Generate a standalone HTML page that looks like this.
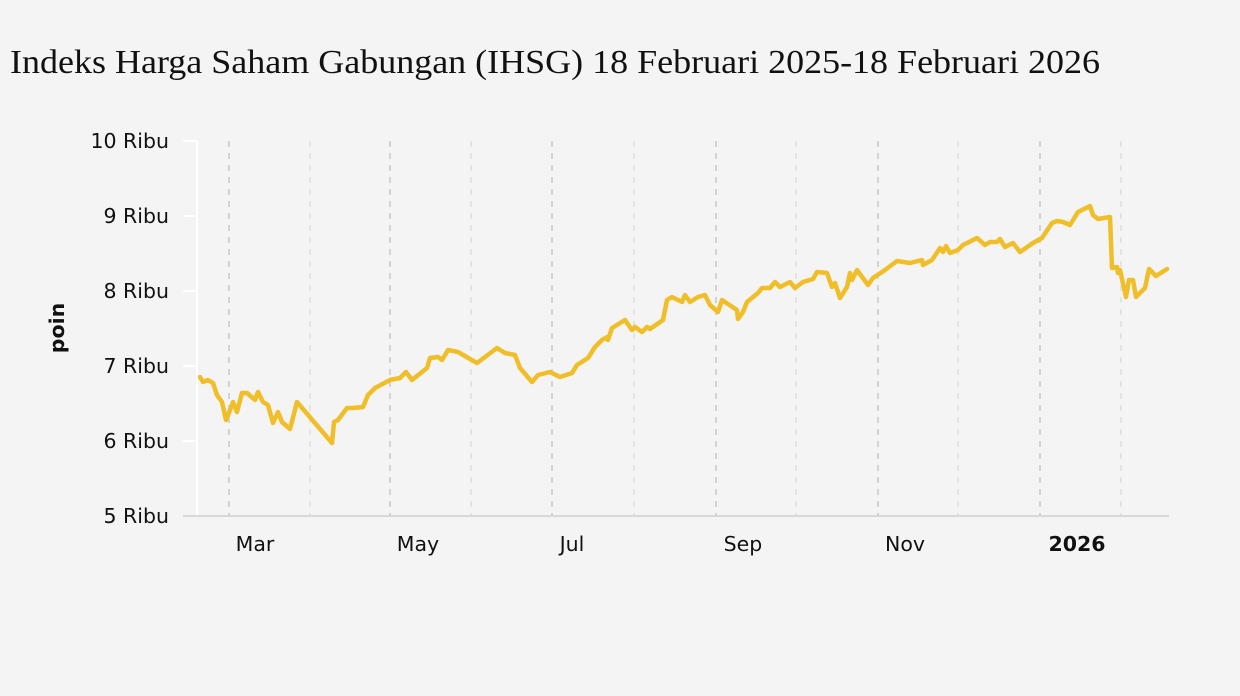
<!DOCTYPE html>
<html><head><meta charset="utf-8"><style>
body{margin:0;background:#f4f4f4;}
svg{display:block}
</style></head><body>
<svg width="1240" height="696" viewBox="0 0 1240 696" xmlns="http://www.w3.org/2000/svg">
<rect width="1240" height="696" fill="#f4f4f4"/>
<text x="10" y="73" font-family="Liberation Serif, serif" font-size="34" fill="#111" textLength="1090" lengthAdjust="spacingAndGlyphs">Indeks Harga Saham Gabungan (IHSG) 18 Februari 2025-18 Februari 2026</text>
<g stroke-dasharray="6,6" stroke-width="1.5">
<line x1="229" y1="141" x2="229" y2="516" stroke="#c8c8c8"/>
<line x1="310" y1="141" x2="310" y2="516" stroke="#dedede"/>
<line x1="390" y1="141" x2="390" y2="516" stroke="#c8c8c8"/>
<line x1="471" y1="141" x2="471" y2="516" stroke="#dedede"/>
<line x1="552" y1="141" x2="552" y2="516" stroke="#c8c8c8"/>
<line x1="634" y1="141" x2="634" y2="516" stroke="#dedede"/>
<line x1="716" y1="141" x2="716" y2="516" stroke="#c8c8c8"/>
<line x1="796" y1="141" x2="796" y2="516" stroke="#dedede"/>
<line x1="878" y1="141" x2="878" y2="516" stroke="#c8c8c8"/>
<line x1="958" y1="141" x2="958" y2="516" stroke="#dedede"/>
<line x1="1040" y1="141" x2="1040" y2="516" stroke="#c8c8c8"/>
<line x1="1121" y1="141" x2="1121" y2="516" stroke="#dedede"/>
</g>
<line x1="197" y1="141" x2="197" y2="516" stroke="#fff" stroke-width="2"/>
<g stroke="#fff" stroke-width="2">
<line x1="183" y1="141" x2="197" y2="141"/><line x1="183" y1="216" x2="197" y2="216"/>
<line x1="183" y1="291" x2="197" y2="291"/><line x1="183" y1="366" x2="197" y2="366"/>
<line x1="183" y1="441" x2="197" y2="441"/>
</g>
<line x1="183" y1="516" x2="1169" y2="516" stroke="#cfcfcf" stroke-width="1.5"/>
<g font-family="DejaVu Sans, Liberation Sans, sans-serif" font-size="20.5" fill="#111" text-anchor="end">
<text x="169" y="148">10 Ribu</text><text x="169" y="223">9 Ribu</text>
<text x="169" y="298">8 Ribu</text><text x="169" y="373">7 Ribu</text>
<text x="169" y="448">6 Ribu</text><text x="169" y="523">5 Ribu</text>
</g>
<g font-family="DejaVu Sans, Liberation Sans, sans-serif" font-size="20.5" fill="#111" text-anchor="middle">
<text x="255" y="551">Mar</text><text x="418" y="551">May</text><text x="572" y="551">Jul</text>
<text x="743" y="551">Sep</text><text x="905" y="551">Nov</text>
<text x="1077" y="551" font-weight="bold">2026</text>
</g>
<text transform="translate(64,328) rotate(-90)" font-family="DejaVu Sans, Liberation Sans, sans-serif" font-size="20.5" font-weight="bold" text-anchor="middle" fill="#111">poin</text>
<polyline fill="none" stroke="#f0be28" stroke-width="4.5" stroke-linejoin="round" stroke-linecap="round" points="
200,377 203,382 208,380 213,383 217,395 222,402 226,420 230,410 233,402 237,412 242,393 247,393 255,400 258,392 263,402 268,405 273,423 278,412 282,422 290,429 297,402 332,443 334,422 338,420 347,408 353,408 363,407 368,395 375,388 390,380 400,378 406,372 412,380 427,368 430,358 438,357 442,360 448,350 458,352 477,363 497,348 505,353 515,355 520,368 532,382 538,375 550,372 560,377 572,373 577,365 588,358 595,347 602,340 607,337 608,340 612,328 625,320 632,330 635,327 642,332 647,327 650,329 663,320 667,300 672,297 682,302 685,295 690,302 698,297 705,295 710,305 718,312 722,300 737,310 738,319 743,312 747,302 758,293 762,288 770,288 775,282 780,287 790,282 795,288 803,282 813,279 817,272 827,273 832,287 835,283 840,298 847,287 850,273 852,280 857,270 868,285 873,278 885,270 897,261 910,263 922,260 923,265 932,260 940,248 943,252 946,246 950,253 958,250 963,245 977,238 985,245 990,242 997,242 1000,239 1005,247 1013,243 1020,252 1033,243 1042,238 1052,223 1057,221 1063,222 1070,225 1078,212 1090,206 1093,215 1098,219 1110,217 1112,268 1117,267 1118,273 1120,270 1126,297 1129,280 1133,280 1136,297 1145,288 1149,269 1156,276 1167,269"/>
</svg>
</body></html>
